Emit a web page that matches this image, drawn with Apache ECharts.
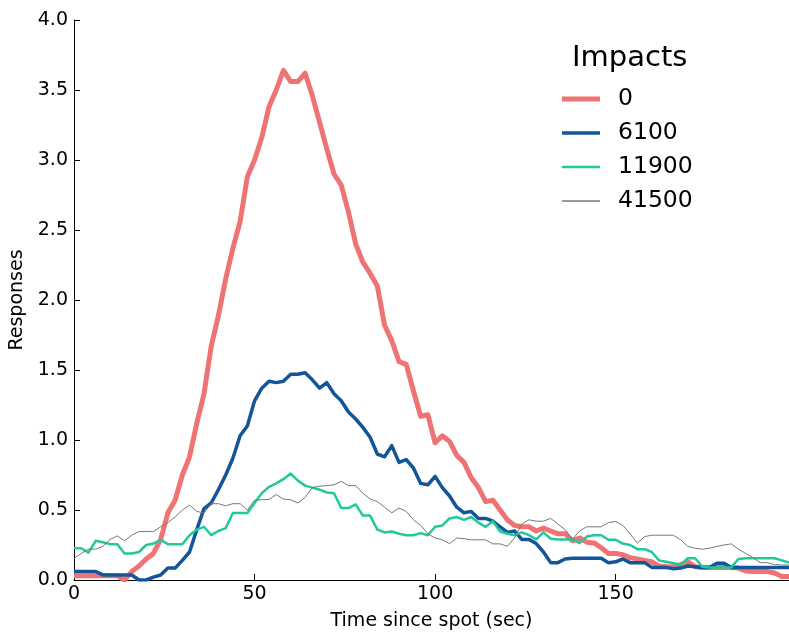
<!DOCTYPE html>
<html lang="en">
<head>
    <meta charset="UTF-8">
    <title>impacts</title>
    <script src="https://cdn.jsdelivr.net/npm/echarts@6/dist/echarts.min.js"></script>
    <style>
        html, body { margin: 0; padding: 0; background: #fff; }
    </style>
</head>
<body>
<div id="chart_line" style="width: 789px;height: 634px"></div>
<script>
    // seconds since the spot aired
    var times = [0,2,4,6,8,10,12,14,16,18,20,22,24,26,28,30,32,34,36,38,
        40,42,44,46,48,50,52,54,56,58,60,62,64,66,68,70,72,74,76,78,
        80,82,84,86,88,90,92,94,96,98,100,102,104,106,108,110,112,114,116,118,
        120,122,124,126,128,130,132,134,136,138,140,142,144,146,148,150,152,154,156,158,
        160,162,164,166,168,170,172,174,176,178,180,182,184,186,188,190,192,194,196,198];

    var names = ['0', '6100', '11900', '41500'];

    var imp0 = [0.03,0.03,0.03,0.03,0.03,0.03,0.03,0.0,0.06,0.10,0.15,0.19,0.29,0.48,0.57,0.75,0.88,1.12,1.33,1.67,
        1.89,2.15,2.37,2.56,2.88,3.00,3.16,3.38,3.50,3.64,3.56,3.56,3.62,3.46,3.27,3.08,2.90,2.82,2.63,2.40,
        2.27,2.19,2.10,1.82,1.71,1.56,1.54,1.35,1.17,1.18,0.98,1.03,0.99,0.89,0.84,0.73,0.66,0.56,0.57,0.50,
        0.43,0.39,0.38,0.38,0.35,0.37,0.35,0.33,0.33,0.28,0.30,0.27,0.265,0.23,0.19,0.19,0.18,0.16,0.15,0.14,
        0.13,0.10,0.095,0.095,0.11,0.13,0.095,0.09,0.09,0.09,0.09,0.09,0.085,0.065,0.06,0.06,0.06,0.05,0.025,0.025];

    var imp6100 = [0.06,0.06,0.06,0.06,0.036,0.036,0.036,0.036,0.036,0.0,0.0,0.02,0.036,0.085,0.085,0.14,0.20,0.36,0.51,0.55,
        0.645,0.75,0.87,1.03,1.10,1.28,1.37,1.42,1.41,1.42,1.47,1.47,1.48,1.43,1.37,1.41,1.33,1.28,1.20,1.15,
        1.09,1.02,0.90,0.88,0.96,0.84,0.86,0.80,0.69,0.68,0.74,0.66,0.60,0.52,0.48,0.49,0.44,0.44,0.42,0.38,
        0.34,0.35,0.29,0.29,0.26,0.20,0.124,0.124,0.15,0.155,0.155,0.155,0.155,0.155,0.124,0.13,0.15,0.124,0.124,0.124,
        0.09,0.09,0.09,0.08,0.085,0.10,0.095,0.09,0.09,0.12,0.12,0.09,0.09,0.09,0.09,0.09,0.09,0.09,0.09,0.09];

    var imp11900 = [0.227,0.227,0.196,0.28,0.27,0.256,0.256,0.19,0.19,0.20,0.25,0.26,0.287,0.256,0.256,0.256,0.32,0.36,0.38,0.32,
        0.35,0.37,0.478,0.478,0.478,0.55,0.62,0.665,0.69,0.72,0.76,0.71,0.674,0.66,0.645,0.625,0.62,0.514,0.514,0.54,
        0.46,0.46,0.36,0.34,0.346,0.33,0.32,0.32,0.335,0.32,0.38,0.39,0.44,0.45,0.43,0.45,0.41,0.38,0.42,0.346,
        0.33,0.32,0.34,0.32,0.29,0.34,0.295,0.29,0.29,0.29,0.263,0.31,0.32,0.32,0.287,0.287,0.26,0.25,0.22,0.22,
        0.20,0.14,0.13,0.12,0.11,0.155,0.155,0.095,0.09,0.09,0.09,0.09,0.15,0.155,0.155,0.155,0.155,0.155,0.14,0.124];

    var imp41500 = [0.155,0.19,0.22,0.22,0.24,0.29,0.315,0.28,0.32,0.346,0.346,0.346,0.38,0.41,0.45,0.50,0.535,0.49,0.478,0.545,
        0.545,0.53,0.545,0.545,0.50,0.57,0.573,0.575,0.61,0.578,0.573,0.55,0.59,0.66,0.67,0.674,0.68,0.705,0.674,0.674,
        0.62,0.578,0.56,0.52,0.48,0.514,0.49,0.43,0.39,0.33,0.30,0.287,0.26,0.30,0.295,0.287,0.287,0.287,0.258,0.258,
        0.24,0.30,0.40,0.43,0.42,0.42,0.44,0.40,0.36,0.29,0.35,0.38,0.38,0.38,0.41,0.418,0.39,0.33,0.263,0.31,
        0.32,0.32,0.32,0.32,0.287,0.24,0.227,0.22,0.227,0.24,0.25,0.258,0.22,0.19,0.16,0.124,0.124,0.11,0.107,0.107];

    var colors = ['#f07373', '#135599', '#1fc99b', '#777777'];
    var widths = [5, 3.5, 2.5, 1];
    var keyWidths = [5, 3.5, 2.5, 1.5];

    function pairs(vals) {
        var out = [];
        for (var i = 0; i < times.length; i++) {
            out.push([times[i], vals[i]]);
        }
        return out;
    }

    var allData = [imp0, imp6100, imp11900, imp41500];
    var series = [];
    var legendItems = [];
    for (var i = 0; i < names.length; i++) {
        series.push({
            name: names[i],
            type: 'line',
            data: pairs(allData[i]),
            symbol: 'none',
            color: colors[i],
            lineStyle: { width: widths[i], color: colors[i], join: 'round' },
            emphasis: { disabled: true }
        });
        // flat bar as legend key, thickness follows the line width
        legendItems.push({
            name: names[i],
            icon: 'path://M0,0H38V' + keyWidths[i] + 'H0Z'
        });
    }

    var font = 'DejaVu Sans';
    var option = {
        animation: false,
        backgroundColor: '#fff',
        title: {
            text: 'Impacts',
            left: 567,
            top: 39,
            textStyle: { fontFamily: font, fontSize: 29, fontWeight: 'normal', color: '#000' }
        },
        legend: {
            data: legendItems,
            orient: 'vertical',
            left: 557,
            top: 82,
            itemWidth: 38,
            itemHeight: 24,
            itemGap: 10,
            textStyle: { fontFamily: font, fontSize: 23.5, color: '#000', padding: [0, 0, 0, 13] }
        },
        grid: {
            left: 74,
            right: 0,
            top: 20,
            bottom: 54,
            outerBoundsMode: 'none'
        },
        xAxis: {
            type: 'value',
            min: 0,
            max: 198,
            interval: 50,
            name: 'Time since spot (sec)',
            nameLocation: 'middle',
            nameGap: 32,
            nameTextStyle: { fontFamily: font, fontSize: 19, color: '#000' },
            axisLine: { lineStyle: { color: '#000', width: 1 } },
            axisTick: { inside: true, length: 6, lineStyle: { color: '#000' } },
            axisLabel: { fontFamily: font, fontSize: 19, color: '#000', margin: 5, showMaxLabel: false },
            splitLine: { show: false }
        },
        yAxis: {
            type: 'value',
            min: 0,
            max: 4,
            interval: 0.5,
            name: 'Responses',
            nameLocation: 'middle',
            nameGap: 43,
            nameTextStyle: { fontFamily: font, fontSize: 19, color: '#000' },
            axisLine: { show: true, lineStyle: { color: '#000', width: 1 } },
            axisTick: { show: true, inside: true, length: 6, lineStyle: { color: '#000' } },
            axisLabel: {
                fontFamily: font, fontSize: 19, color: '#000', margin: 6,
                formatter: function (v) { return v.toFixed(1); }
            },
            splitLine: { show: false }
        },
        series: series
    };

    var chart_line = echarts.init(document.getElementById('chart_line'));
    chart_line.setOption(option);
</script>
</body>
</html>
